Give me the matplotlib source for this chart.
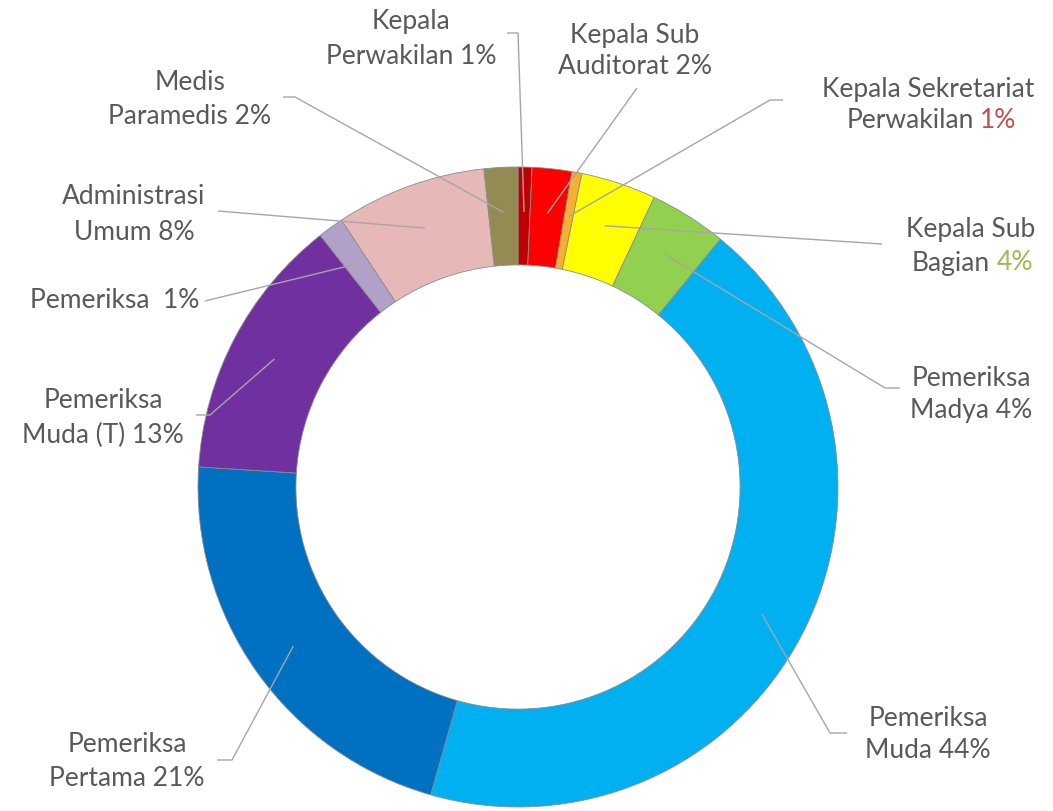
import numpy as np
import matplotlib
matplotlib.use("Agg")
import matplotlib.pyplot as plt

# slice order: clockwise from 12 o'clock
names = ["Kepala Perwakilan", "Kepala Sub Auditorat", "Kepala Sekretariat Perwakilan",
         "Kepala Sub Bagian", "Pemeriksa Madya", "Pemeriksa Muda", "Pemeriksa Pertama",
         "Pemeriksa Muda (T)", "Pemeriksa", "Administrasi Umum", "Medis Paramedis"]
values = [0.7, 2.0, 0.5, 3.8, 3.9, 43.5, 21.6, 13.4, 1.3, 7.6, 1.7]
pct_text = ["1%", "2%", "1%", "4%", "4%", "44%", "21%", "13%", "1%", "8%", "2%"]
colors = ["#C00000", "#FF0000", "#F5B12E", "#FFFF00", "#92D050", "#00B0F0",
          "#0070C0", "#7030A0", "#B1A0C7", "#E6B9B8", "#948A54"]

W, H = 1053, 811
CX, CY, R = 518, 487, 320


def px(x, y):
    # pixel position -> data coords (pie centre at 0,0, outer radius 1)
    return (x - CX) / R, (CY - y) / R


fig = plt.figure(figsize=(W / 100, H / 100), dpi=100)
ax = fig.add_axes([0, 0, 1, 1])

wedges, _ = ax.pie(values, colors=colors, startangle=90, counterclock=False,
                   radius=1, wedgeprops=dict(width=0.306, edgecolor="#8c8c8c", linewidth=0.6))

# pie() resets the limits, so set them afterwards
ax.set_xlim(-CX / R, (W - CX) / R)
ax.set_ylim((CY - H) / R, CY / R)
ax.set_aspect("equal")
ax.axis("off")

txt_col = "#595959"
fs = 19
font = dict(family="Lato", fontsize=fs, color=txt_col)

# label layout: (line1, line2, x, y1, y2)
labels = [
    ("Kepala", "Perwakilan 1%", 411, 22, 57),
    ("Kepala Sub", "Auditorat 2%", 635, 35, 67),
    ("Kepala Sekretariat", None, 928, 90, 121),
    ("Kepala Sub", None, 971, 229, 263),
    ("Pemeriksa", "Madya 4%", 971, 378, 410),
    ("Pemeriksa", "Muda 44%", 928, 718, 750),
    ("Pemeriksa", "Pertama 21%", 127, 745, 778),
    ("Pemeriksa", "Muda (T) 13%", 103, 400, 435),
    ("Pemeriksa  1%", None, 115, 300, None),
    ("Administrasi", "Umum 8%", 134, 197, 232),
    ("Medis", "Paramedis 2%", 190, 82, 117),
]

# leader paths after the slice point
leaders = [
    [(518, 33), (507, 33)],
    [(637, 88)],
    [(770, 100), (783, 100)],
    [(882, 244)],
    [(885, 388), (900, 388)],
    [(830, 733), (847, 733)],
    [(232, 760), (217, 760)],
    [(210, 415), (196, 415)],
    [(205, 301)],
    [(218, 211)],
    [(295, 97), (283, 97)],
]

cum = np.cumsum([0] + values)
tot = cum[-1]
for i in range(len(values)):
    mid = (cum[i] + cum[i + 1]) / 2 / tot * 2 * np.pi
    r0 = 0.86
    pts = [(r0 * np.sin(mid), r0 * np.cos(mid))] + [px(*p) for p in leaders[i]]
    xs, ys = zip(*pts)
    ax.plot(xs, ys, color="#a6a6a6", lw=1.0, solid_capstyle="butt")

    l1, l2, x, y1, y2 = labels[i]
    ax.text(*px(x, y1), l1, ha="center", va="center", **font)
    if l2 is not None:
        ax.text(*px(x, y2), l2, ha="center", va="center", **font)

# two-colour second lines
ax.text(*px(974, 121), "Perwakilan", ha="right", va="center", **font)
ax.text(*px(980, 121), pct_text[2], ha="left", va="center", family="Lato",
        fontsize=fs, color="#C0504D")
ax.text(*px(990, 263), "Bagian", ha="right", va="center", **font)
ax.text(*px(997, 263), pct_text[3], ha="left", va="center", family="Lato",
        fontsize=fs, color="#9BBB59")

fig.savefig("out.png", dpi=100, facecolor="white")
